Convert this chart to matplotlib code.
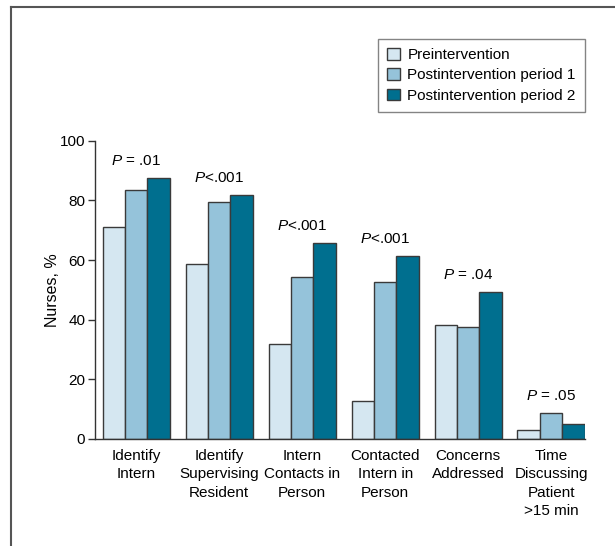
import matplotlib
matplotlib.use("Agg")
import matplotlib.pyplot as plt
from matplotlib.lines import Line2D
from matplotlib.patches import Patch
import numpy as np

# values per item, three study periods
categorias = ["Identify\nIntern", "Identify\nSupervising\nResident",
              "Intern\nContacts in\nPerson", "Contacted\nIntern in\nPerson",
              "Concerns\nAddressed", "Time\nDiscussing\nPatient\n>15 min"]
pre = [71.2, 58.6, 32.0, 12.6, 38.3, 3.1]
post1 = [83.5, 79.6, 54.4, 52.6, 37.7, 8.7]
post2 = [87.6, 82.0, 65.8, 61.5, 49.4, 5.1]
p_valores = [" = .01", "<.001", "<.001", "<.001", " = .04", " = .05"]
series = ["Preintervention", "Postintervention period 1", "Postintervention period 2"]
colores = ["#d5e7f1", "#95c3da", "#006f8f"]

plt.rcParams["font.family"] = ["Liberation Sans", "DejaVu Sans"]
plt.rcParams["mathtext.fontset"] = "custom"
plt.rcParams["mathtext.it"] = "Liberation Sans:italic"
plt.rcParams["mathtext.rm"] = "Liberation Sans"

fig = plt.figure(figsize=(6.15, 5.46), dpi=100)
ax = fig.add_axes([0.1545, 0.196, 0.7965, 0.546])

x = np.arange(len(categorias))
ancho = 0.27
for i, (vals, c) in enumerate(zip([pre, post1, post2], colores)):
    ax.bar(x + (i - 1) * ancho, vals, ancho, color=c, edgecolor="#3a3a3a",
           linewidth=1.0, label=series[i])

# P values above each group
for xi, vals, p in zip(x, zip(pre, post1, post2), p_valores):
    ax.annotate(r"$\mathit{P}$" + p, (xi, max(vals)), xytext=(0, 7),
                textcoords="offset points", ha="center", va="bottom",
                fontsize=11)

ax.set_xlim(-0.496, 5.407)
ax.set_ylim(0, 100)
ax.set_yticks([0, 20, 40, 60, 80, 100])
ax.set_xticks(x)
ax.set_xticklabels(categorias, fontsize=11, linespacing=1.4)
ax.tick_params(axis="x", length=0, pad=7)
ax.tick_params(axis="y", length=5, width=1, labelsize=11, color="#333", pad=2)
ax.set_ylabel("Nurses, %", fontsize=11.5, labelpad=0)
for s in ["top", "right"]:
    ax.spines[s].set_visible(False)
for s in ["left", "bottom"]:
    ax.spines[s].set_color("#333")
    ax.spines[s].set_linewidth(1)

manijas = [Patch(facecolor=c, edgecolor="#3a3a3a", linewidth=1) for c in colores]
leg = ax.legend(manijas, series, loc="upper right", bbox_to_anchor=(1.0, 1.342),
                borderaxespad=0, fontsize=11, frameon=True, fancybox=False,
                handlelength=0.8, handleheight=0.8, handletextpad=0.5,
                labelspacing=0.4, borderpad=0.6)
leg.get_frame().set_edgecolor("#666")
leg.get_frame().set_linewidth(1)

# outer panel border (top and left)
fig.add_artist(Line2D([11 / 615, 1.0], [1 - 7 / 546, 1 - 7 / 546],
                      color="#555", linewidth=1.5, transform=fig.transFigure))
fig.add_artist(Line2D([11 / 615, 11 / 615], [0, 1 - 7 / 546],
                      color="#555", linewidth=1.5, transform=fig.transFigure))

fig.savefig("out.png", dpi=100)
